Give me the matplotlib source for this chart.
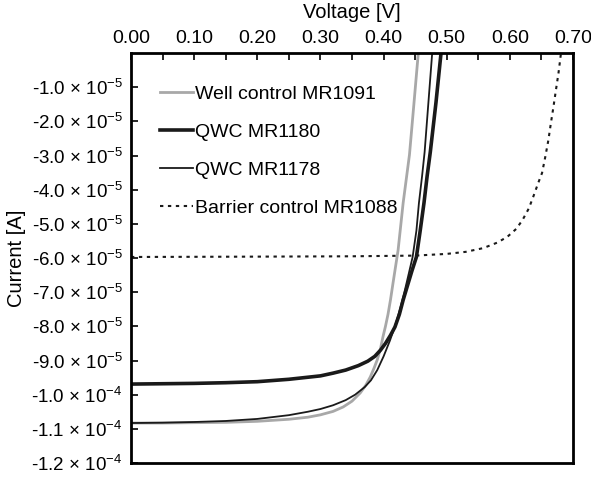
import matplotlib
matplotlib.use("Agg")

import matplotlib.pyplot as plt
import numpy as np

# Well control MR1091 (grey), current in units of 1e-4 A
well_v = [0.0, 0.05, 0.10, 0.15, 0.20, 0.25, 0.28, 0.30, 0.32, 0.336, 0.35, 0.363, 0.372,
          0.379, 0.385, 0.390, 0.395, 0.399, 0.403, 0.407, 0.411, 0.415, 0.423, 0.431,
          0.441, 0.448, 0.455]
well_i = [-1.083, -1.083, -1.082, -1.081, -1.078, -1.072, -1.066, -1.059, -1.049, -1.036,
          -1.019, -0.995, -0.972, -0.948, -0.922, -0.898, -0.866, -0.831, -0.800, -0.765,
          -0.722, -0.673, -0.577, -0.439, -0.298, -0.150, 0.0]

# QWC MR1180 (thick black)
qwc80_v = [0.0, 0.05, 0.10, 0.15, 0.20, 0.25, 0.28, 0.30, 0.32, 0.34, 0.36, 0.375, 0.386,
           0.395, 0.403, 0.411, 0.418, 0.425, 0.431, 0.438, 0.445, 0.452, 0.458, 0.464,
           0.469, 0.474, 0.483, 0.491]
qwc80_i = [-0.969, -0.968, -0.967, -0.965, -0.962, -0.955, -0.949, -0.945, -0.937, -0.928,
           -0.915, -0.902, -0.888, -0.870, -0.850, -0.826, -0.802, -0.765, -0.723, -0.680,
           -0.637, -0.597, -0.520, -0.439, -0.360, -0.290, -0.145, 0.0]

# QWC MR1178 (thin black)
qwc78_v = [0.0, 0.05, 0.10, 0.15, 0.20, 0.25, 0.28, 0.30, 0.32, 0.34, 0.355, 0.37, 0.38,
           0.39, 0.40, 0.41, 0.418, 0.426, 0.433, 0.440, 0.446, 0.452, 0.456, 0.461, 0.465,
           0.471, 0.477]
qwc78_i = [-1.083, -1.082, -1.080, -1.077, -1.071, -1.060, -1.050, -1.042, -1.031, -1.016,
           -1.000, -0.978, -0.958, -0.928, -0.888, -0.842, -0.800, -0.750, -0.700, -0.645,
           -0.597, -0.520, -0.439, -0.360, -0.290, -0.145, 0.0]

# Barrier control MR1088 (dotted)
barrier_v = [0.0, 0.20, 0.35, 0.45, 0.50, 0.53, 0.558, 0.58, 0.596, 0.61, 0.62, 0.63, 0.637,
             0.645, 0.651, 0.656, 0.661, 0.665, 0.669, 0.673, 0.677, 0.681]
barrier_i = [-0.597, -0.596, -0.595, -0.593, -0.588, -0.582, -0.571, -0.555, -0.538, -0.515,
             -0.489, -0.455, -0.421, -0.380, -0.351, -0.305, -0.255, -0.205, -0.158, -0.108,
             -0.059, 0.0]

scale = 1e-4

y_tick_values = [-1e-5, -2e-5, -3e-5, -4e-5, -5e-5, -6e-5, -7e-5, -8e-5, -9e-5,
                 -1e-4, -1.1e-4, -1.2e-4]
y_tick_labels = [
    r"-1.0 $\times$ 10$^{-5}$", r"-2.0 $\times$ 10$^{-5}$", r"-3.0 $\times$ 10$^{-5}$",
    r"-4.0 $\times$ 10$^{-5}$", r"-5.0 $\times$ 10$^{-5}$", r"-6.0 $\times$ 10$^{-5}$",
    r"-7.0 $\times$ 10$^{-5}$", r"-8.0 $\times$ 10$^{-5}$", r"-9.0 $\times$ 10$^{-5}$",
    r"-1.0 $\times$ 10$^{-4}$", r"-1.1 $\times$ 10$^{-4}$", r"-1.2 $\times$ 10$^{-4}$",
]
x_tick_values = [0.0, 0.1, 0.2, 0.3, 0.4, 0.5, 0.6, 0.7]

plt.rcParams["font.family"] = ["Liberation Sans", "DejaVu Sans"]
plt.rcParams["mathtext.fontset"] = "custom"
plt.rcParams["mathtext.rm"] = "Liberation Sans"
plt.rcParams["mathtext.it"] = "Liberation Sans"
plt.rcParams["mathtext.bf"] = "Liberation Sans"

fig = plt.figure(figsize=(5.91, 4.78), dpi=100)
ax = fig.add_axes([131 / 591, 1 - 463 / 478, (573 - 131) / 591, (463 - 53) / 478])

ax.plot(well_v, np.array(well_i) * scale, color="#a8a8a8", linewidth=2.0,
        label="Well control MR1091")
ax.plot(qwc80_v, np.array(qwc80_i) * scale, color="#1a1a1a", linewidth=2.6,
        label="QWC MR1180")
ax.plot(qwc78_v, np.array(qwc78_i) * scale, color="#1a1a1a", linewidth=1.3,
        label="QWC MR1178")
ax.plot(barrier_v, np.array(barrier_i) * scale, color="#1a1a1a", linewidth=1.5,
        linestyle=(0, (1.6, 2.2)), label="Barrier control MR1088")

ax.set_xlim(0, 0.70)
ax.set_ylim(-1.2e-4, 0)

ax.xaxis.tick_top()
ax.xaxis.set_label_position("top")
ax.set_xticks(x_tick_values)
ax.set_xticklabels([f"{v:.2f}" for v in x_tick_values])
ax.set_xticks(np.arange(0.05, 0.70, 0.1), minor=True)
ax.set_yticks(y_tick_values)
ax.set_yticklabels(y_tick_labels)

ax.tick_params(axis="x", which="both", direction="in", length=5, width=1.2,
               labelsize=14, pad=4, top=True, bottom=False)
ax.tick_params(axis="y", direction="in", length=5, width=1.2, labelsize=13.5,
               pad=6, left=True, right=False)

for spine in ax.spines.values():
    spine.set_linewidth(2.0)

ax.set_xlabel("Voltage [V]", fontsize=14.5, labelpad=9)
ax.set_ylabel("Current [A]", fontsize=14.5, labelpad=4)

ax.legend(loc="upper left", bbox_to_anchor=(0.048, 0.94), frameon=False, fontsize=14,
          handlelength=1.7, handletextpad=0.1, labelspacing=1.05, borderaxespad=0.0)

fig.savefig("out.png", dpi=100)
